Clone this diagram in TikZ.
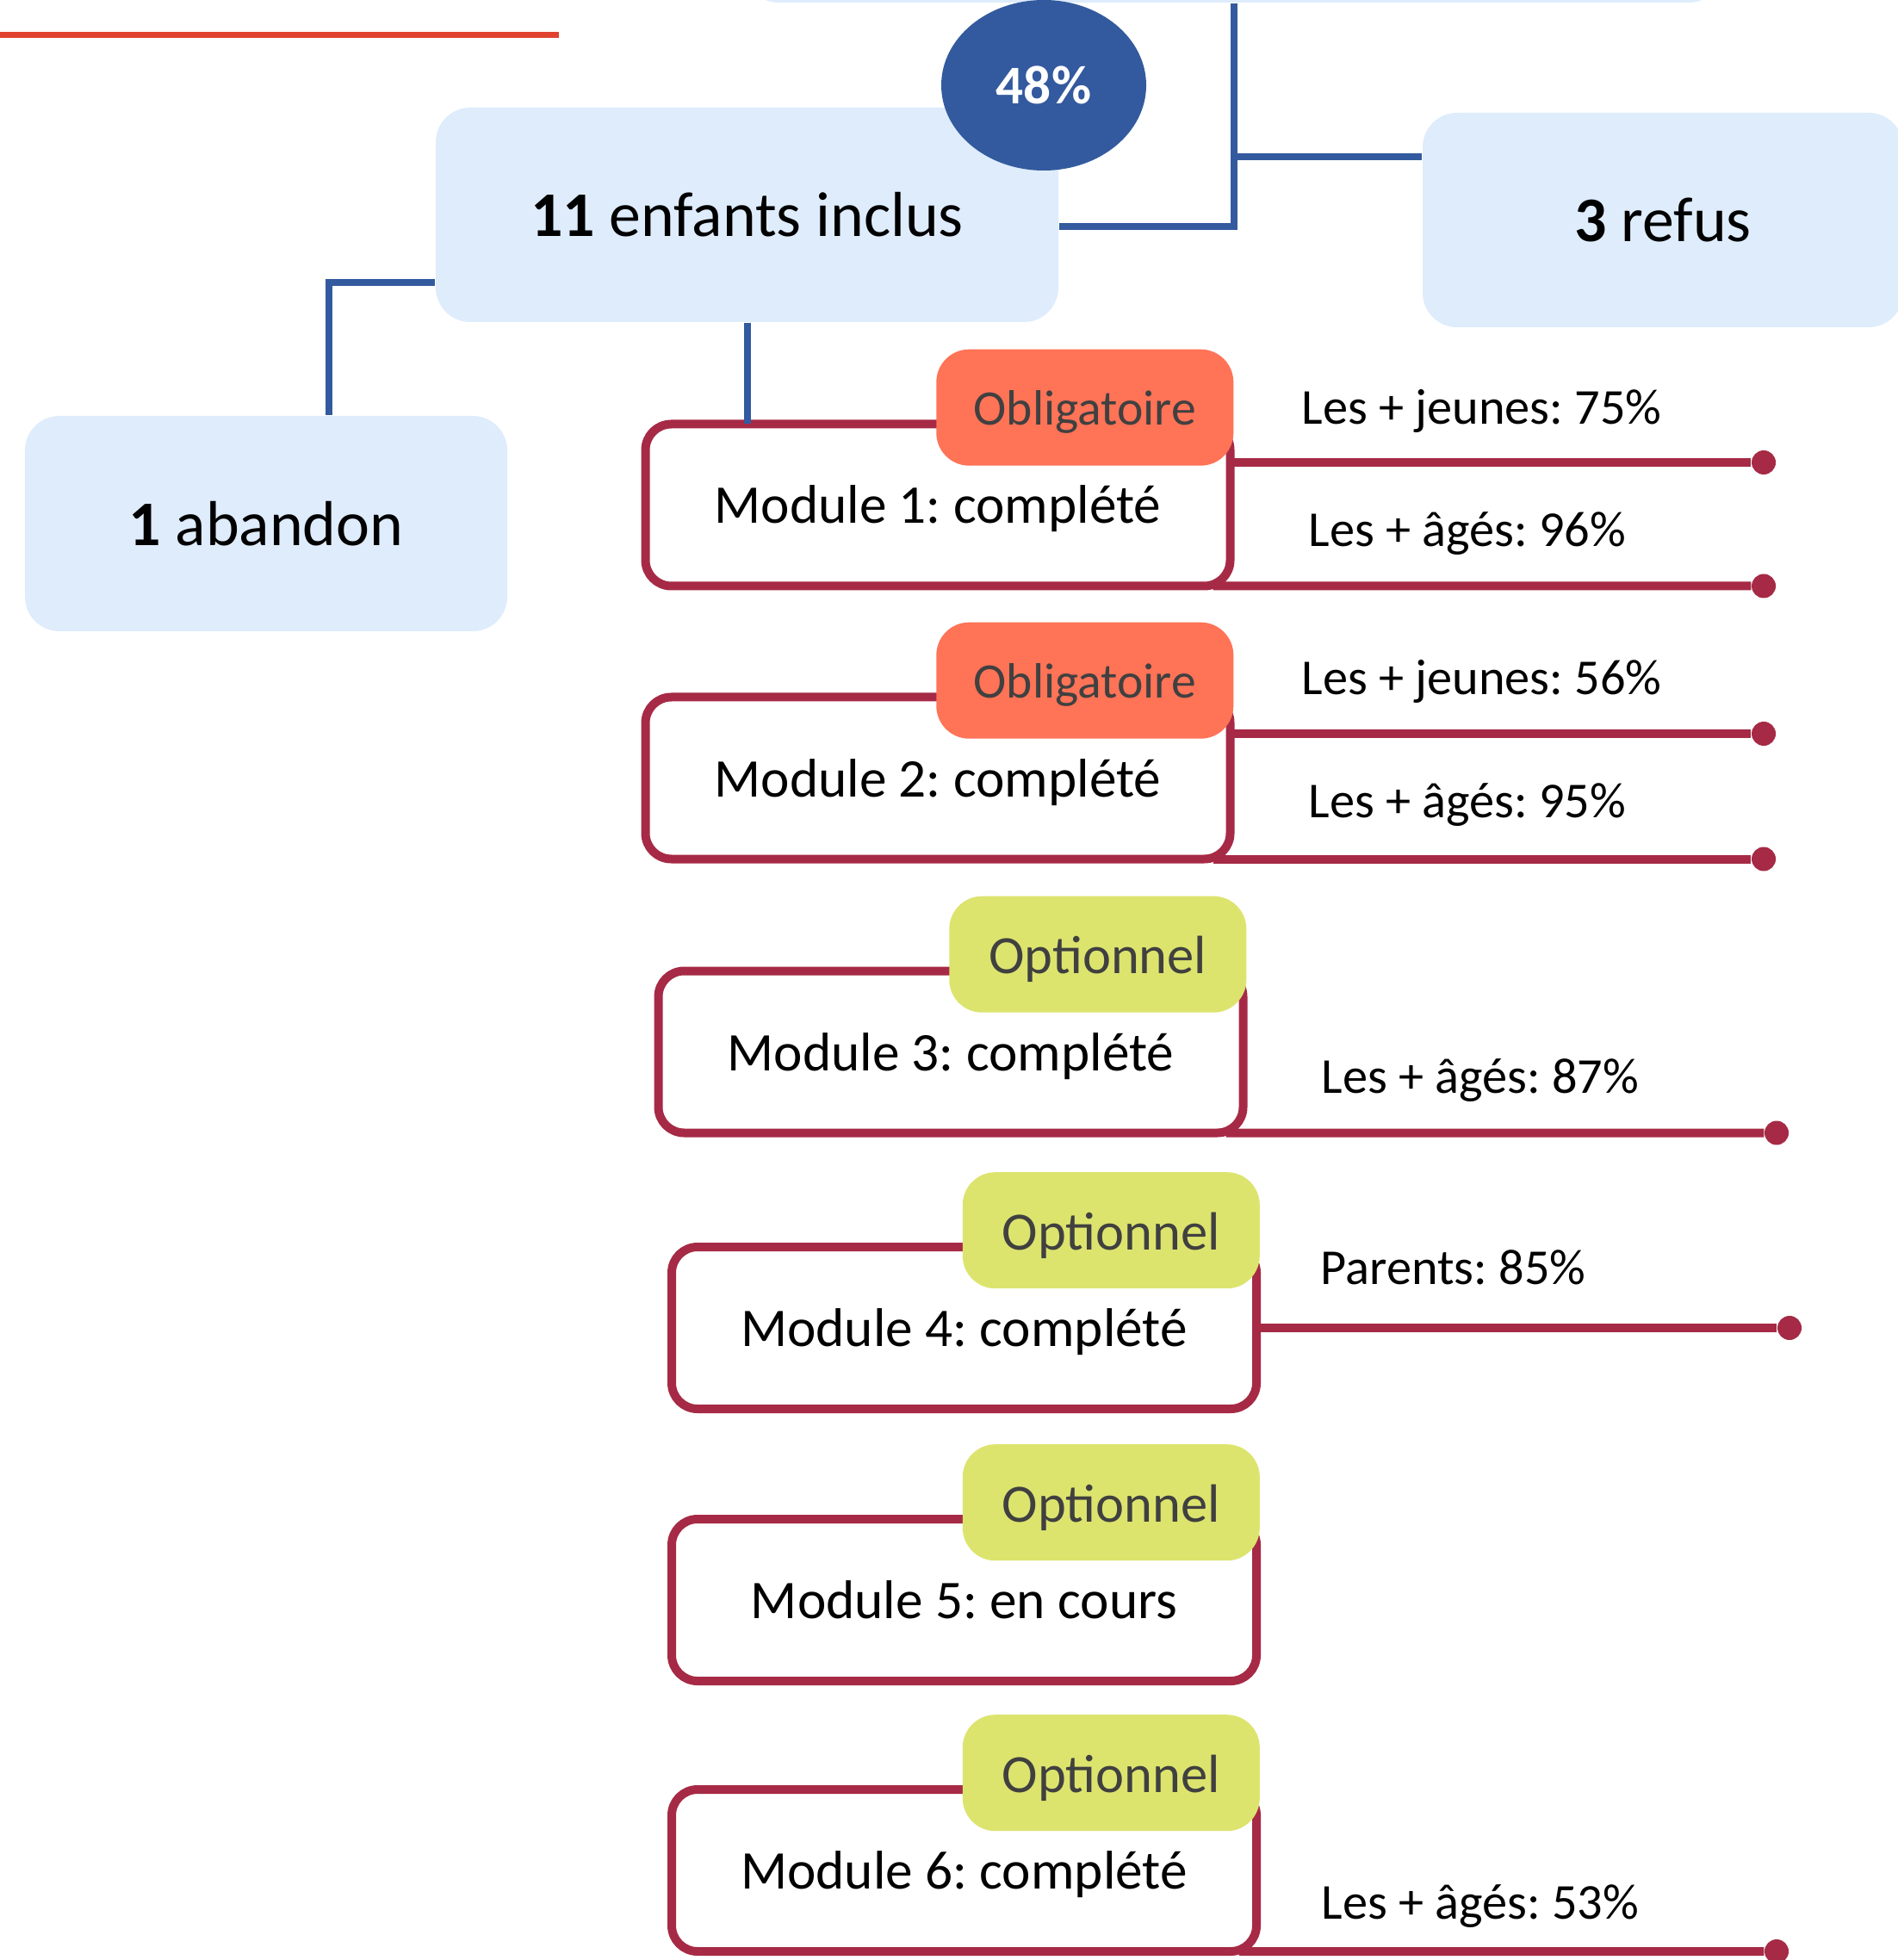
\documentclass[tikz,border=0pt]{standalone}
\usepackage{fontspec}
\setmainfont{Carlito}
\usetikzlibrary{shapes.geometric}
\definecolor{boxblue}{RGB}{222,236,252}
\definecolor{lineblue}{RGB}{51,90,158}
\definecolor{modred}{RGB}{166,42,69}
\definecolor{oblred}{RGB}{255,115,87}
\definecolor{optgreen}{RGB}{220,228,110}
\definecolor{taggray}{RGB}{64,64,64}
\definecolor{topred}{RGB}{224,66,48}
\frenchspacing
\tikzset{
  bluebox/.style={fill=boxblue, rounded corners=0.4cm, inner sep=0pt, font=\fontsize{21}{25}\selectfont},
  blueline/.style={draw=lineblue, line width=0.08cm},
  modbox/.style={draw=modred, line width=0.1cm, fill=white, rounded corners=0.3cm, minimum width=6.79cm, minimum height=1.88cm, inner sep=0pt, outer sep=0pt, text height=0.56cm, text depth=0.13cm, font=\fontsize{18}{22}\selectfont},
  tagbox/.style={rounded corners=0.38cm, minimum width=3.45cm, minimum height=1.35cm, inner sep=0pt, text=taggray, anchor=north east},
  obltag/.style={tagbox, fill=oblred, text height=0.52cm, text depth=0.12cm, font=\fontsize{16.4}{20}\selectfont},
  opttag/.style={tagbox, fill=optgreen, text height=0.57cm, text depth=0.12cm, font=\fontsize{17.8}{21}\selectfont},
  modline/.style={draw=modred, line width=0.1cm},
  enddot/.style={circle, fill=modred, minimum size=0.28cm, inner sep=0pt},
  lbl/.style={anchor=base west, inner sep=0pt, font=\fontsize{16.6}{20}\selectfont}
}
\begin{document}
\begin{tikzpicture}
\useasboundingbox (0,0) rectangle (22.03,-22.76);
\draw[topred, line width=0.07cm] (0,-0.406) -- (6.49,-0.406);

\node[bluebox, minimum width=11.37cm, minimum height=2cm] (src) at (14.325,0.97) {};
\node[bluebox, minimum width=7.23cm, minimum height=2.49cm] (incl) at (8.675,-2.495) {\textbf{11} enfants inclus};
\node[bluebox, minimum width=5.58cm, minimum height=2.49cm] (refus) at (19.31,-2.555) {\textbf{3} refus};
\node[bluebox, minimum width=5.6cm, minimum height=2.5cm] (aband) at (3.09,-6.08) {\textbf{1} abandon};
\node[ellipse, fill=lineblue, minimum width=2.38cm, minimum height=1.98cm, inner sep=0pt, text=white, font=\bfseries\fontsize{18}{22}\selectfont] (pct) at (12.12,-0.99) {48\%};

\draw[blueline] (src.south) |- ([yshift=-1.35mm]incl.east);
\draw[blueline] ([yshift=7.35mm]refus.west) -| (src.south);
\draw[blueline] ([yshift=-7.85mm]incl.west) -| ([xshift=7.3mm]aband.north);

\node[modbox] (m1) at (10.89,-5.865) {Module 1: complété};
\node[modbox] (m2) at (10.89,-9.035) {Module 2: complété};
\node[modbox] (m3) at (11.04,-12.215) {Module 3: complété};
\node[modbox] (m4) at (11.195,-15.42) {Module 4: complété};
\node[modbox] (m5) at (11.195,-18.58) {Module 5: en cours};
\node[modbox] (m6) at (11.195,-21.72) {Module 6: complété};

\draw[blueline] (incl.south) -- (incl.south |- m1.north);

\node[obltag] (t1) at ([xshift=0.45mm,yshift=8.75mm]m1.north east) {Obligatoire};
\node[obltag] (t2) at ([xshift=0.45mm,yshift=8.75mm]m2.north east) {Obligatoire};
\node[opttag] (t3) at ([xshift=0.45mm,yshift=8.75mm]m3.north east) {Optionnel};
\node[opttag] (t4) at ([xshift=0.45mm,yshift=8.75mm]m4.north east) {Optionnel};
\node[opttag] (t5) at ([xshift=0.45mm,yshift=8.75mm]m5.north east) {Optionnel};
\node[opttag] (t6) at ([xshift=0.45mm,yshift=8.75mm]m6.north east) {Optionnel};

\node[enddot] (d1a) at (20.48,-5.37) {};
\node[enddot] (d1b) at (20.48,-6.805) {};
\node[enddot] (d2a) at (20.48,-8.52) {};
\node[enddot] (d2b) at (20.48,-9.975) {};
\node[enddot] (d3) at (20.63,-13.155) {};
\node[enddot] (d4) at (20.78,-15.42) {};
\node[enddot] (d6) at (20.63,-22.66) {};

\draw[modline] (d1a -| m1.east) -- (d1a);
\draw[modline] ([xshift=-2mm]m1.south east) -- (d1b);
\draw[modline] (d2a -| m2.east) -- (d2a);
\draw[modline] ([xshift=-2mm]m2.south east) -- (d2b);
\draw[modline] ([xshift=-2mm]m3.south east) -- (d3);
\draw[modline] (m4.east) -- (d4);
\draw[modline] ([xshift=-2mm]m6.south east) -- (d6);

\node[lbl] (l1a) at (15.11,-4.93) {Les + jeunes: 75\%};
\node[lbl] (l1b) at (15.19,-6.35) {Les + âgés: 96\%};
\node[lbl] (l2a) at (15.11,-8.07) {Les + jeunes: 56\%};
\node[lbl] (l2b) at (15.19,-9.49) {Les + âgés: 95\%};
\node[lbl] (l3) at (15.34,-12.69) {Les + âgés: 87\%};
\node[lbl] (l4) at (15.33,-14.91) {Parents: 85\%};
\node[lbl] (l6) at (15.34,-22.28) {Les + âgés: 53\%};
\end{tikzpicture}
\end{document}
